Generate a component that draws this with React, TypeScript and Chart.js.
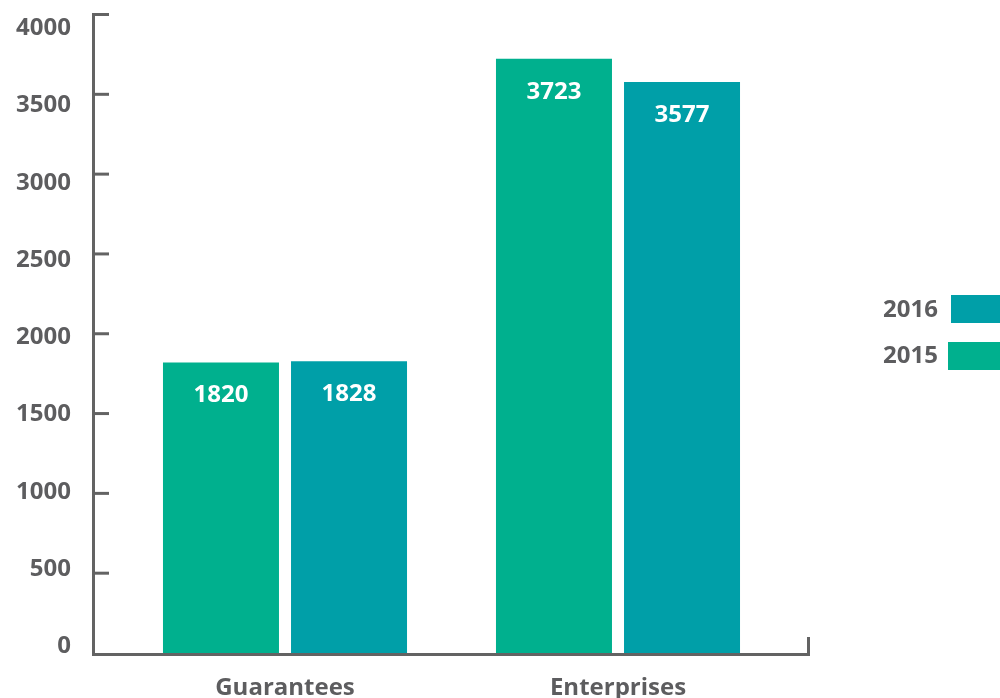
import React, { useEffect, useRef } from "react";
import { Chart, registerables } from "chart.js";

Chart.register(...registerables);

const categories = ["Guarantees", "Enterprises"];
const series2015 = [1820, 3723];
const series2016 = [1828, 3577];
const yTicks = [0, 500, 1000, 1500, 2000, 2500, 3000, 3500, 4000];
const legendLabels = ["2016", "2015"];

const GREEN = "#00b08e";
const TEAL = "#009fa8";
const GRAY = "#5d5d5f";
const AXIS = "#636363";
const FONT = "bold 24px 'Open Sans', 'DejaVu Sans', sans-serif";

const customPlugin = {
  id: "custom",
  afterDraw(chart: any) {
    const ctx = chart.ctx;
    const y = chart.scales.y;
    const yl = chart.scales.yLabels;
    const x = chart.scales.x;
    const bottom = y.getPixelForValue(0);
    const top = y.getPixelForValue(4000);
    ctx.save();
    // axes
    ctx.strokeStyle = AXIS;
    ctx.lineWidth = 3;
    ctx.beginPath();
    ctx.moveTo(93.5, top - 1.5);
    ctx.lineTo(93.5, bottom + 1.5);
    ctx.lineTo(808.5, bottom + 1.5);
    ctx.lineTo(808.5, bottom - 16);
    ctx.stroke();
    yTicks.forEach((v) => {
      const py = y.getPixelForValue(v);
      if (v === 0) return;
      ctx.beginPath();
      ctx.moveTo(93.5, py);
      ctx.lineTo(109, py);
      ctx.stroke();
    });
    // y labels
    ctx.font = FONT;
    ctx.fillStyle = GRAY;
    ctx.textAlign = "right";
    ctx.textBaseline = "alphabetic";
    yTicks.forEach((v) => {
      ctx.fillText(String(v), 71, yl.getPixelForValue(v));
    });
    // x labels
    ctx.textAlign = "center";
    categories.forEach((c, i) => {
      ctx.fillText(c, x.getPixelForValue(i), 695);
    });
    // data labels
    ctx.fillStyle = "#ffffff";
    chart.data.datasets.forEach((ds: any, di: number) => {
      const meta = chart.getDatasetMeta(di);
      meta.data.forEach((bar: any, i: number) => {
        ctx.fillText(String(ds.data[i]), bar.x, bar.y + 40);
      });
    });
    // legend
    ctx.textAlign = "right";
    ctx.fillStyle = GRAY;
    ctx.fillText(legendLabels[0], 938, 317);
    ctx.fillText(legendLabels[1], 938, 363);
    ctx.fillStyle = TEAL;
    ctx.fillRect(951, 295, 60, 28);
    ctx.fillStyle = GREEN;
    ctx.fillRect(948, 342, 60, 28);
    ctx.restore();
  },
};

export default function App() {
  const ref = useRef<HTMLCanvasElement>(null);
  useEffect(() => {
    if (!ref.current) return;
    const chart = new Chart(ref.current, {
      type: "bar",
      data: {
        labels: categories,
        datasets: [
          { label: "2015", data: series2015, backgroundColor: GREEN },
          { label: "2016", data: series2016, backgroundColor: TEAL },
        ],
      },
      options: {
        responsive: false,
        animation: false,
        layout: { padding: { left: 118.5, right: 215.5, top: 14.5, bottom: 45 } },
        datasets: {
          bar: { categoryPercentage: 0.769, barPercentage: 0.906 },
        },
        plugins: { legend: { display: false }, tooltip: { enabled: false } },
        scales: {
          x: { display: false },
          y: { display: false, min: 0, max: 4000 },
          yLabels: { display: false, min: 0, max: 4133, position: "left" },
        },
      },
      plugins: [customPlugin],
    });
    return () => chart.destroy();
  }, []);
  return (
    <div style={{ position: "fixed", left: 0, top: 0, width: 1000, height: 698, background: "#fff" }}>
      <canvas ref={ref} width={1000} height={698} />
    </div>
  );
}
